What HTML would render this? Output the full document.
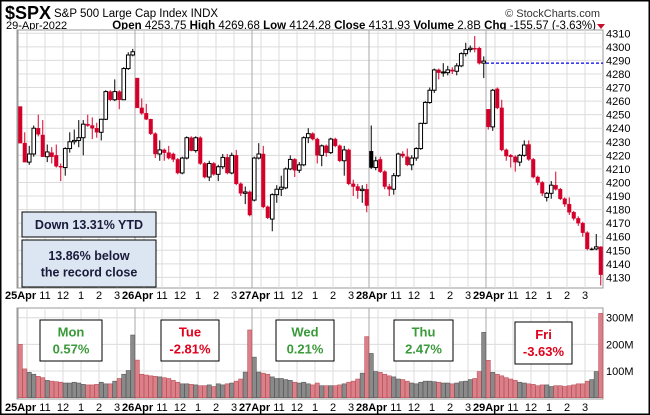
<!DOCTYPE html>
<html><head><meta charset="utf-8"><style>
html,body{margin:0;padding:0;background:#fff;}
svg{display:block;font-family:"Liberation Sans",sans-serif;}
</style></head><body>
<svg id="c" width="650" height="415" viewBox="0 0 650 415">
<rect x="0.5" y="0.5" width="649" height="414" fill="#fff" stroke="#000" stroke-width="2"/>
<text x="5" y="19" font-size="18" font-weight="bold">$SPX</text>
<text x="54" y="17" font-size="11.5">S&amp;P 500 Large Cap Index  INDX</text>
<text x="600" y="17" font-size="11" text-anchor="end" fill="#333">© StockCharts.com</text>
<text x="6" y="29" font-size="11">29-Apr-2022</text>
<text x="596" y="29" font-size="11.5" text-anchor="end"><tspan font-weight="bold">Open</tspan> 4253.75 <tspan font-weight="bold">High</tspan> 4269.68 <tspan font-weight="bold">Low</tspan> 4124.28 <tspan font-weight="bold">Close</tspan> 4131.93 <tspan font-weight="bold">Volume</tspan> 2.8B <tspan font-weight="bold">Chg</tspan> -155.57 (-3.63%)</text>
<polygon points="597,24 605,24 601,29" fill="#c8102e"/>
<g id="grid"></g>
<g id="marks"></g>
<g id="ann"></g>
</svg>
<script>
const opens=[4256,4229,4215,4221,4240,4235,4219,4222,4220,4212,4211,4225,4230,4231,4233,4243,4242,4240,4237,4246.6,4267,4261,4267,4261,4284,4294,
4277,4255,4251,4246.6,4236,4221,4224,4222,4221,4217,4207,4218,4233,4223.5,4233,4214,4204,4214,4206,4211.6,4218.5,4207,4220,4199,4192,4193,
4187,4218,4221,4182,4173,4191,4195,4196,4210,4217,4209,4213,4233,4236,4232,4220,4227,4222,4232,4227,4216,4224,4199,4197,4194,4195,
4223,4211,4217,4208,4197,4195,4205,4221,4219,4213,4218,4225,4243.6,4259,4268,4283,4281,4281,4283,4282,4286,4295,4298,4299,4299,4288,
4254,4241,4269,4255,4224,4220,4219,4215,4220,4228,4217,4204,4200,4189,4192,4198,4195,4188,4184,4178,4173.5,4170,4163,4151,4151,4152.5];
const closes=[4229,4215,4221,4240,4235.5,4219,4222.5,4219,4212,4211.5,4225,4230,4231,4233,4243,4242,4240,4237,4246.6,4267,4261,4267,4261,4284,4294,4296.4,
4255,4251,4246.6,4236,4221,4224,4222,4218,4217,4207,4218,4233,4223.5,4233,4214,4204,4214,4206,4211.6,4218.5,4207,4220,4199,4192,4193,4176,
4218,4221,4182,4174,4191,4195,4196.5,4210,4217,4209,4213,4233,4236,4232,4220,4227,4222,4232,4227,4216,4224,4199,4197,4194,4195,4183,
4211,4216,4208,4197,4195,4205,4221,4219.5,4213,4218,4225,4243.6,4259,4268,4283,4281,4281.5,4283,4282,4286,4295,4298,4299,4298.5,4288,4289.5,
4241,4268,4255,4224,4219.5,4219,4215,4220,4227.6,4217,4204,4200,4192,4192,4198,4195,4188,4184,4178,4173.5,4170,4163,4151,4151,4152.5,4132];
const highs=[4256,4237,4227,4242,4250,4246,4228,4226,4228,4214,4226,4237,4239,4246,4246,4250,4248,4244,4247,4268,4268,4276,4268,4285,4296,4298.5,
4277,4262,4258,4247,4237,4231,4225,4227,4222,4218,4219,4234,4234,4234,4234,4215,4216,4215,4213,4221,4221,4222,4224,4200,4197,4194,
4219,4229,4227,4183,4192,4198,4205,4211,4220,4218,4215,4234,4240,4237,4233,4228,4228,4233,4233,4228,4227,4225,4202,4199,4198,4199,
4242,4219,4219,4209,4199,4207,4222,4223,4225,4220,4226,4244,4260,4270,4284,4284,4288,4286,4285,4288,4296,4303,4301,4308,4300,4293,
4254,4269,4270,4261,4225,4221,4220,4221,4231,4231,4218,4205,4201,4193,4201,4208,4196,4189,4189,4179,4175,4171,4164,4152,4162,4153];
const lows=[4229,4215,4213,4219,4234,4219,4215,4214,4211,4201,4205,4222,4228,4226,4220,4241,4232,4233,4231,4246,4260,4260,4254,4261,4283,4293,
4255,4250,4246,4235,4218,4216,4216,4217,4215,4206,4206,4217,4223,4222,4213,4203,4201,4205,4201,4210,4206,4206,4198,4190,4184,4175,
4186,4217,4181,4173,4164,4185,4190,4195,4209,4204,4207,4212,4229,4231,4214,4212,4219,4221,4226,4215,4205,4198,4190,4188,4185,4178,
4210,4209,4207,4195,4190,4191,4204,4218,4212,4209,4216,4224,4243,4258,4266,4276,4278,4279,4280,4279,4285,4293,4296,4296,4287,4277,
4239,4238,4254,4223,4216,4211,4208,4212,4219,4216,4203,4198,4190,4186,4188,4194,4187,4182,4176,4172,4168,4160,4150,4150,4150,4124];
const volumes=[200,108,95,88,80,75,65,62,60,58,55,55,58,55,50,48,48,50,58,52,52,62,72,88,102,235,
141,88,85,82,80,78,75,72,65,58,52,52,50,48,45,45,48,42,52,48,52,55,62,70,96,254,
152,96,92,88,78,72,72,68,65,58,55,58,52,48,55,45,45,45,45,48,52,58,62,70,92,229,
166,98,95,88,82,78,70,68,62,55,52,58,62,62,60,58,55,55,52,55,60,62,68,72,98,245,
140,95,88,82,75,70,65,58,55,52,50,45,48,48,42,45,45,42,45,48,52,52,62,68,98,316];
const priceTicks=[4130,4140,4150,4160,4170,4180,4190,4200,4210,4220,4230,4240,4250,4260,4270,4280,4290,4300,4310];
const volTicks=[100,200,300];
const dayLabels=["25Apr","26Apr","27Apr","28Apr","29Apr"];
const hourLabels=["10","11","12","1","2","3"];
const hourBars=[2,6,10,14,18,22];
const prevCloseLine=4288;

const NS="http://www.w3.org/2000/svg";
const X0=18,BW=4.5,X1=603;
const PT=30,PB=288,VT=308,VB=399;
function px(i){return X0+BW*i+BW/2;}
function py(p){return 33.3+(4310-p)*1.356;}
function vy(v){return 397.7-v*0.2667;}
function mk(tag,attrs,parent){const e=document.createElementNS(NS,tag);for(const k in attrs)e.setAttribute(k,attrs[k]);parent.appendChild(e);return e;}
const grid=document.getElementById('grid'),marks=document.getElementById('marks'),ann=document.getElementById('ann');

let pp=mk('rect',{x:X0-1,y:PT,width:X1-X0+1,height:PB-PT,fill:'#fff',stroke:'#999'},grid);


let vp=mk('rect',{x:X0-1,y:VT,width:X1-X0+1,height:VB-VT,fill:'#fff',stroke:'#999'},grid);



priceTicks.forEach(t=>{
  const y=py(t);
  const l=mk('line',{x1:X0,x2:X1,y1:y,y2:y,stroke:'#dcdcdc'},grid);
  
  
  const tx=mk('text',{x:606,y:y+4,'font-size':11},grid);tx.textContent=t;
  
  
});
volTicks.forEach(t=>{
  const y=vy(t);
  const l=mk('line',{x1:X0,x2:X1,y1:y,y2:y,stroke:'#dcdcdc'},grid);
  
  
  const tx=mk('text',{x:606,y:y+4,'font-size':11},grid);tx.textContent=t+'M';
  
  
});
dayLabels.forEach((d,k)=>{
  const dx=X0+k*26*BW;
  [[PT,PB],[VT,VB]].forEach(([a,b])=>{
    const l=mk('line',{x1:dx,x2:dx,y1:a,y2:b,stroke:k?'#aaa':'#999'},grid);
    
    
  });
  [299,411].forEach(ly=>{
    const tx=mk('text',{x:dx-13,y:ly,'font-size':11,'font-weight':'bold'},grid);tx.textContent=d;
    
    
  });
  hourBars.forEach((hb,h)=>{
    const hx=dx+hb*BW;
    [[PT,PB],[VT,VB]].forEach(([a,b])=>{
      const l=mk('line',{x1:hx,x2:hx,y1:a,y2:b,stroke:'#dcdcdc'},grid);
      
      
    });
    if(h>0){[299,411].forEach(ly=>{
      const tx=mk('text',{x:hx,y:ly,'font-size':11,'text-anchor':'middle'},grid);tx.textContent=hourLabels[h];
      
      
    });}
  });
});

const dl=mk('line',{x1:486,x2:X1,y1:py(prevCloseLine),y2:py(prevCloseLine),stroke:'#0000ee','stroke-dasharray':'3,2','stroke-width':1.2},marks);



for(let i=0;i<closes.length;i++){
  const o=opens[i],c=closes[i],h=highs[i],l=lows[i];
  const pc=i?closes[i-1]:o;
  const col=c<pc?'#d4002a':'#000';
  const x=px(i);
  const w=mk('line',{x1:x,x2:x,y1:py(h),y2:py(l),stroke:col,'stroke-width':1},marks);
  
  
  const top=py(Math.max(o,c)),bot=py(Math.min(o,c));
  const hollow=c>o;
  const b=mk('rect',{x:x-1.8,y:top,width:3.6,height:Math.max(1,bot-top),fill:hollow?'#fff':col,stroke:col,'stroke-width':hollow?1:0.4},marks);
  
  
  const vcol=c<pc?'#c0505a':'#5a5a5a';
  const vb=mk('rect',{x:x-2.1,y:vy(volumes[i]),width:4.2,height:vy(0)-vy(volumes[i]),fill:c<pc?'#d98088':'#8a8a8a',stroke:vcol,'stroke-width':0.6},marks);
  
  
}

function box(x,y,w,h,lines,color,fill,fs,name){
  const g=mk('g',{},ann);
  
  
  mk('rect',{x:x,y:y,width:w,height:h,fill:fill,stroke:'#000','stroke-width':1},g);
  const lh=fs+4, start=y+h/2-(lines.length-1)*lh/2+fs*0.36;
  lines.forEach((t,k)=>{const tx=mk('text',{x:x+w/2,y:start+k*lh,'font-size':fs,'font-weight':'bold','text-anchor':'middle',fill:color},g);tx.textContent=t;});
}
box(22,212,134,25,["Down 13.31% YTD"],'#1a1a3a','#dce6f2',12.5,'ytd-annotation');
box(22,240,134,47,["13.86% below","the record close"],'#1a1a3a','#dce6f2',12.5,'record-close-annotation');
box(40,320,62,41,["Mon","0.57%"],'#3a9a3a','#fff',13,'monday-change-box');
box(161,320,58,41,["Tue","-2.81%"],'#e0001b','#fff',13,'tuesday-change-box');
box(276,320,58,41,["Wed","0.21%"],'#3a9a3a','#fff',13,'wednesday-change-box');
box(394,320,59,41,["Thu","2.47%"],'#3a9a3a','#fff',13,'thursday-change-box');
box(515,322,57,42,["Fri","-3.63%"],'#e0001b','#fff',13,'friday-change-box');
</script>
</body></html>
